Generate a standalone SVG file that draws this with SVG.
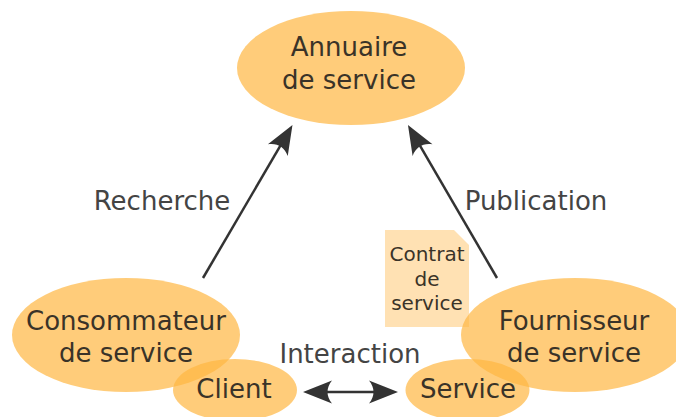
<svg xmlns="http://www.w3.org/2000/svg" width="676" height="417" viewBox="0 0 676 417">
<style>
.node{fill:#ffb641;fill-opacity:0.7;}
.t{font-family:"DejaVu Sans",sans-serif;font-size:26px;fill:#3a3328;text-anchor:middle;}
.lbl{font-family:"DejaVu Sans",sans-serif;font-size:26px;fill:#444;text-anchor:middle;}
.small{font-family:"DejaVu Sans",sans-serif;font-size:20px;fill:#3a3328;text-anchor:middle;}
.edge{stroke:#333;stroke-width:2.5;fill:none;}
</style>
<defs>
<marker id="ah" markerUnits="userSpaceOnUse" markerWidth="60" markerHeight="60" refX="0" refY="0" orient="auto-start-reverse" overflow="visible">
<path d="M12,0 L-17,-11.5 C-11,-4 -11,4 -17,11.5 Z" fill="#333"/>
</marker>
</defs>
<rect width="676" height="417" fill="#fff"/>
<g id="annuaire">
<ellipse class="node" cx="351" cy="68" rx="114" ry="57"/>
<text class="t" x="349" y="56">Annuaire</text>
<text class="t" x="349" y="89">de service</text>
</g>
<g id="connectors">
<line class="edge" x1="203" y1="278" x2="286.4" y2="135.4" marker-end="url(#ah)"/>
<line class="edge" x1="497" y1="278" x2="414" y2="135.4" marker-end="url(#ah)"/>
<line class="edge" x1="315" y1="392" x2="386" y2="392" marker-start="url(#ah)" marker-end="url(#ah)"/>
<text class="lbl" x="162" y="210">Recherche</text>
<text class="lbl" x="536" y="210">Publication</text>
<text class="lbl" x="350" y="363">Interaction</text>
</g>
<g id="contrat">
<polygon points="385,230 454,230 469,245 469,327 385,327" fill="#ffe1b3"/>
<text class="small" x="427" y="261">Contrat</text>
<text class="small" x="427" y="286">de</text>
<text class="small" x="427" y="310">service</text>
</g>
<g id="consommateur">
<ellipse class="node" cx="126" cy="335" rx="114" ry="57"/>
<text class="t" x="126" y="330">Consommateur</text>
<text class="t" x="126" y="362">de service</text>
</g>
<g id="fournisseur">
<ellipse class="node" cx="575" cy="335" rx="114" ry="57"/>
<text class="t" x="574" y="330">Fournisseur</text>
<text class="t" x="574" y="362">de service</text>
</g>
<g id="client">
<ellipse class="node" cx="235" cy="390" rx="62" ry="31"/>
<text class="t" x="234" y="398">Client</text>
</g>
<g id="service">
<ellipse class="node" cx="467.5" cy="390" rx="62" ry="31"/>
<text class="t" x="468" y="398">Service</text>
</g>
</svg>
